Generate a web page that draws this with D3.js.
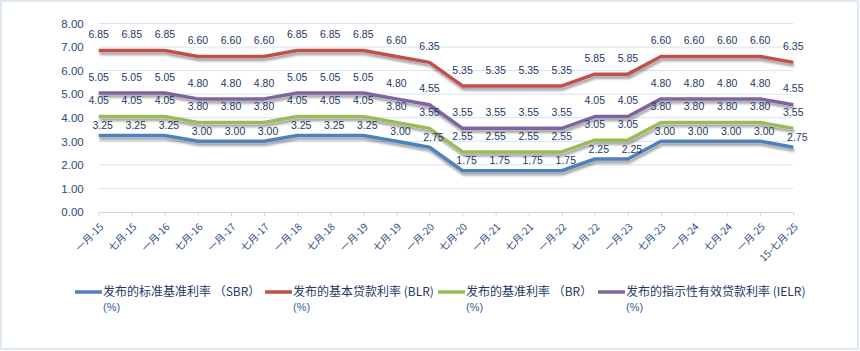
<!DOCTYPE html>
<html>
<head>
<meta charset="utf-8">
<script src="https://cdn.jsdelivr.net/npm/d3@7"></script>
<style>
  body { margin: 0; background: #fff; }
  svg { display: block; }
  .tick-label { font-family: "Liberation Sans", Arial, sans-serif; font-size: 11.5px; fill: #2a4a7f; }
  .x-label { font-family: "Noto Sans CJK SC", sans-serif; font-size: 10px; fill: #2a4a7f; }
  .data-label { font-family: "Liberation Sans", Arial, sans-serif; font-size: 10.5px; fill: #1f3864; }
  .legend-text { font-family: "Noto Sans CJK SC", sans-serif; font-size: 12px; fill: #1f3864; }
  .legend-small { font-family: "Liberation Sans", Arial, sans-serif; font-size: 11px; fill: #3a5a9a; }
</style>
</head>
<body>
<svg id="chart" width="860" height="351"></svg>
<script>
// categories
const categories = ['一月-15', '七月-15', '一月-16', '七月-16', '一月-17', '七月-17', '一月-18', '七月-18',
  '一月-19', '七月-19', '一月-20', '七月-20', '一月-21', '七月-21', '一月-22', '七月-22',
  '一月-23', '七月-23', '一月-24', '七月-24', '一月-25', '15-七月-25'];

// series values
const sbr  = [3.25, 3.25, 3.25, 3.00, 3.00, 3.00, 3.25, 3.25, 3.25, 3.00, 2.75, 1.75, 1.75, 1.75, 1.75, 2.25, 2.25, 3.00, 3.00, 3.00, 3.00, 2.75];
const blr  = [6.85, 6.85, 6.85, 6.60, 6.60, 6.60, 6.85, 6.85, 6.85, 6.60, 6.35, 5.35, 5.35, 5.35, 5.35, 5.85, 5.85, 6.60, 6.60, 6.60, 6.60, 6.35];
const br   = [4.05, 4.05, 4.05, 3.80, 3.80, 3.80, 4.05, 4.05, 4.05, 3.80, 3.55, 2.55, 2.55, 2.55, 2.55, 3.05, 3.05, 3.80, 3.80, 3.80, 3.80, 3.55];
const ielr = [5.05, 5.05, 5.05, 4.80, 4.80, 4.80, 5.05, 5.05, 5.05, 4.80, 4.55, 3.55, 3.55, 3.55, 3.55, 4.05, 4.05, 4.80, 4.80, 4.80, 4.80, 4.55];

// y ticks
const yTicks = [0, 1, 2, 3, 4, 5, 6, 7, 8];

const seriesNames = ['发布的标准基准利率 （SBR）', '发布的基本贷款利率 (BLR)', '发布的基准利率 （BR）', '发布的指示性有效贷款利率 (IELR)'];
const seriesValues = [sbr, blr, br, ielr];
const colors = ['#4f81bd', '#c0504d', '#9bbb59', '#8064a2'];
const labelOffsets = [{dx: 4, dy: -10}, {dx: 0, dy: -16}, {dx: 0, dy: -16}, {dx: 0, dy: -16}];

const svg = d3.select('#chart');

// outer frame
svg.append('rect')
  .attr('x', 1).attr('y', 1)
  .attr('width', 857).attr('height', 348)
  .attr('fill', '#fff')
  .attr('stroke', '#d5e2f1')
  .attr('stroke-width', 1.5);

const defs = svg.append('defs');
defs.append('filter')
  .attr('id', 'shadow')
  .attr('x', '-5%').attr('y', '-50%').attr('width', '110%').attr('height', '200%')
  .append('feDropShadow')
  .attr('dx', 1).attr('dy', 3)
  .attr('stdDeviation', 1.3)
  .attr('flood-color', '#000')
  .attr('flood-opacity', 0.35);

const xScale = d3.scalePoint()
  .domain(categories)
  .range([98.7, 793.3]);

const yScale = d3.scaleLinear()
  .domain([0, 8])
  .range([212, 23.5]);

// gridlines
svg.append('g')
  .selectAll('line')
  .data(yTicks.filter(d => d > 0))
  .join('line')
    .attr('x1', 98.7).attr('x2', 793.3)
    .attr('y1', d => yScale(d)).attr('y2', d => yScale(d))
    .attr('stroke', '#d6e3f2')
    .attr('stroke-width', 1);

// y axis labels
const yAxis = d3.axisLeft(yScale)
  .tickValues(yTicks)
  .tickFormat(d3.format('.2f'))
  .tickSize(0)
  .tickPadding(15);

const yAxisG = svg.append('g')
  .attr('transform', 'translate(98.7,0)')
  .call(yAxis);
yAxisG.select('.domain').remove();
yAxisG.selectAll('text').attr('class', 'tick-label').attr('fill', null);

// x axis
const xAxis = d3.axisBottom(xScale)
  .tickSize(4)
  .tickFormat('');

const xAxisG = svg.append('g')
  .attr('transform', `translate(0,${yScale(0)})`)
  .call(xAxis);
xAxisG.select('.domain').attr('stroke', '#c9daee').attr('d', `M98.7,0.5H793.3`);
xAxisG.selectAll('.tick line').attr('stroke', '#c9daee');

svg.append('g')
  .selectAll('text')
  .data(categories)
  .join('text')
    .attr('class', 'x-label')
    .attr('text-anchor', 'end')
    .attr('dy', '0.35em')
    .attr('transform', d => `translate(${xScale(d) + 3},${yScale(0) + 13}) rotate(-45)`)
    .text(d => d);

// lines
const line = d3.line()
  .x((d, i) => xScale(categories[i]))
  .y(d => yScale(d));

seriesValues.forEach((vals, s) => {
  svg.append('path')
    .attr('d', line(vals))
    .attr('fill', 'none')
    .attr('stroke', colors[s])
    .attr('stroke-width', 3.5)
    .attr('stroke-linejoin', 'round')
    .attr('filter', 'url(#shadow)');
});

// data labels
seriesValues.forEach((vals, s) => {
  svg.append('g')
    .selectAll('text')
    .data(vals)
    .join('text')
      .attr('class', 'data-label')
      .attr('text-anchor', 'middle')
      .attr('dy', '0.35em')
      .attr('x', (d, i) => xScale(categories[i]) + labelOffsets[s].dx)
      .attr('y', d => yScale(d) + labelOffsets[s].dy)
      .text(d => d3.format('.2f')(d));
});

// legend
const legendX = [75, 265, 438, 598];
const legend = svg.append('g');
seriesNames.forEach((name, s) => {
  const g = legend.append('g').attr('transform', `translate(${legendX[s]},292)`);
  g.append('line')
    .attr('x1', 0).attr('x2', 27)
    .attr('y1', 0).attr('y2', 0)
    .attr('stroke', colors[s])
    .attr('stroke-width', 3.5);
  g.append('text')
    .attr('class', 'legend-text')
    .attr('x', 28)
    .attr('dy', '0.35em')
    .text(name);
  g.append('text')
    .attr('class', 'legend-small')
    .attr('x', 28)
    .attr('y', 15)
    .attr('dy', '0.35em')
    .text('(%)');
});
</script>
</body>
</html>
